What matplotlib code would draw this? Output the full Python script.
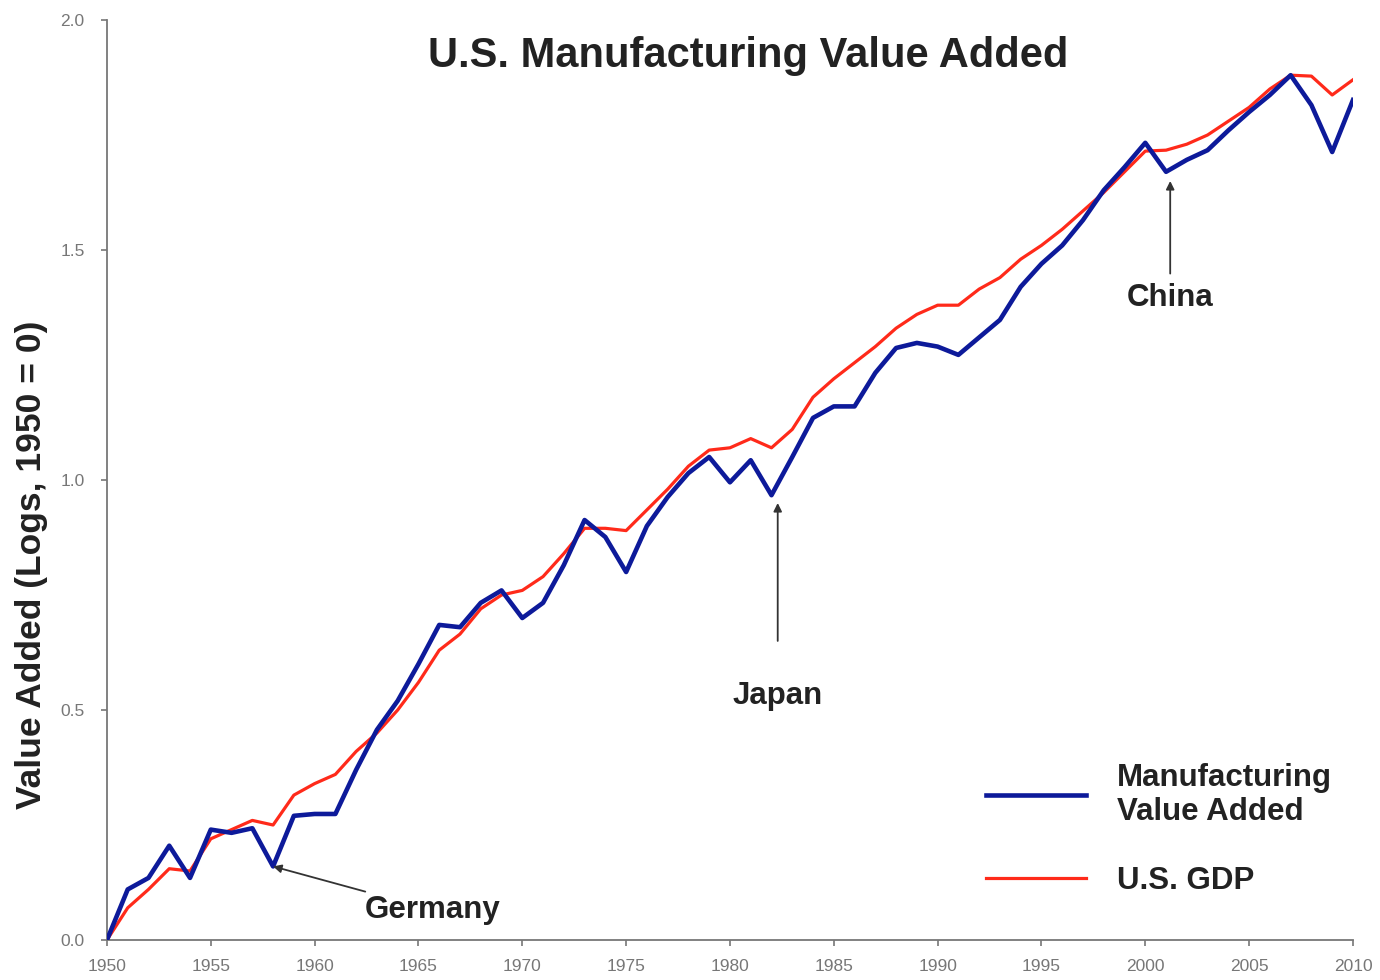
import matplotlib
matplotlib.use("Agg")
import matplotlib.pyplot as plt

plt.rcParams['font.family'] = ['Liberation Sans', 'DejaVu Sans']

# data (logs, 1950 = 0)
years = list(range(1950, 2011))
manufacturing = [0.00, 0.11, 0.135, 0.205, 0.135, 0.24, 0.233, 0.243, 0.16, 0.27,
                 0.274, 0.274, 0.37, 0.457, 0.52, 0.60, 0.685, 0.68, 0.733, 0.76,
                 0.70, 0.733, 0.815, 0.913, 0.876, 0.80, 0.90, 0.963, 1.015, 1.05,
                 0.995, 1.043, 0.967, 1.05, 1.135, 1.16, 1.16, 1.233, 1.287, 1.298,
                 1.29, 1.272, 1.31, 1.348, 1.42, 1.47, 1.51, 1.565, 1.63, 1.68,
                 1.733, 1.67, 1.696, 1.717, 1.76, 1.80, 1.837, 1.88, 1.815, 1.713,
                 1.826]
gdp = [0.00, 0.07, 0.11, 0.155, 0.15, 0.22, 0.24, 0.26, 0.25, 0.315,
       0.34, 0.36, 0.41, 0.45, 0.50, 0.56, 0.63, 0.665, 0.72, 0.75,
       0.76, 0.79, 0.84, 0.895, 0.895, 0.89, 0.935, 0.98, 1.03, 1.065,
       1.07, 1.09, 1.07, 1.11, 1.18, 1.22, 1.255, 1.29, 1.33, 1.36,
       1.38, 1.38, 1.415, 1.44, 1.48, 1.51, 1.545, 1.585, 1.625, 1.67,
       1.715, 1.717, 1.73, 1.75, 1.78, 1.81, 1.85, 1.88, 1.878, 1.837,
       1.87]

# annotations: label, point (year, value), text position, gap before arrow
events = [("Germany", (1958, 0.16), (1965.7, 0.065), 2),
          ("Japan", (1982.3, 0.95), (1982.3, 0.53), 27),
          ("China", (2001.2, 1.65), (2001.2, 1.395), 5)]

fig = plt.figure(figsize=(13.8, 9.8), dpi=100)
ax = fig.add_axes([0.0775, 0.0408, 0.9029, 0.9388])

ax.plot(years, gdp, color='#ff2a1a', lw=2.3, label='U.S. GDP', zorder=2)
ax.plot(years, manufacturing, color='#0d1a9a', lw=3.3,
        label='Manufacturing\nValue Added', zorder=3)

ax.set_xlim(1950, 2010)
ax.set_ylim(0, 2.0)
ax.set_xticks(range(1950, 2011, 5))
ax.set_yticks([0, 0.5, 1.0, 1.5, 2.0])
ax.set_yticklabels(['0.0', '0.5', '1.0', '1.5', '2.0'])
ax.tick_params(colors='#777777', labelsize=12.5, length=4, width=1.2,
               labelcolor='#777777')
ax.tick_params(axis='x', pad=10)
ax.tick_params(axis='y', pad=12)
for side in ['top', 'right']:
    ax.spines[side].set_visible(False)
for side in ['left', 'bottom']:
    ax.spines[side].set_color('#777777')
    ax.spines[side].set_linewidth(1.3)

ax.set_ylabel('Value Added (Logs, 1950 = 0)', fontsize=25.5, fontweight='bold',
              color='#222222')
ax.yaxis.set_label_coords(-0.047, 0.408)
ax.set_title('U.S. Manufacturing Value Added', fontsize=30, fontweight='bold',
             color='#222222', y=0.94, x=0.515)

for label, pt, txt, gap in events:
    ax.annotate(label, xy=pt, xytext=txt, fontsize=22.5, fontweight='bold',
                color='#222222', ha='center', va='center',
                arrowprops=dict(arrowstyle='-|>', color='#333333', lw=1.3,
                                mutation_scale=12, shrinkA=gap, shrinkB=0))

handles, labels = ax.get_legend_handles_labels()
leg = ax.legend(handles[::-1], labels[::-1], loc='lower right',
                bbox_to_anchor=(1.006, 0.017), frameon=False,
                prop={'size': 22.5, 'weight': 'bold'}, handlelength=3.2,
                handletextpad=1.0, labelspacing=1.25)
for t in leg.get_texts():
    t.set_color('#222222')

fig.savefig('out.png', dpi=100)
